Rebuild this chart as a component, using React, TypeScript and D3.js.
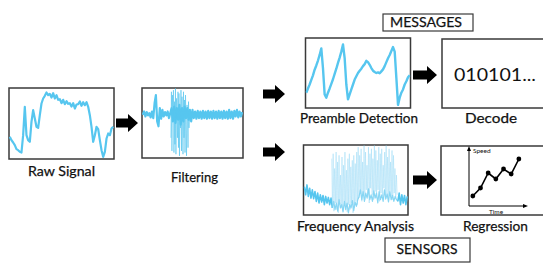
import React from 'react';
import * as d3 from 'd3';

// signal levels (0 = bottom of the panel, 210 = top)
const rawSignal = [65, 55, 48, 40, 28, 25, 20, 18, 70, 155, 70, 55, 50, 110, 145, 120, 95, 92, 130, 165,
  180, 188, 198, 190, 194, 183, 196, 180, 190, 176, 178, 166, 176, 163, 172, 164, 166, 156, 166, 150,
  162, 163, 171, 158, 169, 160, 169, 155, 130, 95, 50, 70, 95, 88, 55, 25, 5, 20, 60, 75, 70, 90, 95];

const filtered = [130, 140, 125, 138, 128, 135, 122, 140, 120, 165, 190, 110, 95, 150, 118, 145, 125, 138, 128, 140,
  120, 135, 150, 110, 155, 105, 150, 115, 160, 100, 150, 110, 155, 120, 150, 115, 145, 110, 145, 120,
  140, 118, 142, 120, 140, 118, 142, 120, 140, 118, 142, 120, 140, 118, 142, 120, 140, 118, 142, 120,
  140, 118, 142, 120, 140, 118, 145, 120, 140, 118, 142, 125, 145, 122, 140, 125, 138];

// the burst inside the filtered trace, samples 21.5 .. 36.5
const filterBurst = [60, 200, 20, 190, 120, 205, 15, 170, 40, 210, 10, 180, 130, 60, 200, 30, 195, 5, 150, 90,
  205, 20, 185, 110, 10, 200, 60, 175, 15, 190, 100, 5, 160, 120, 30, 170, 90, 140, 110, 130];

const preamble = [45, 58, 70, 84, 98, 115, 128, 143, 160, 180, 120, 40, 30, 45, 58, 72, 86, 102, 118, 136,
  152, 170, 192, 150, 70, 25, 40, 55, 70, 85, 95, 105, 112, 118, 126, 132, 142, 138, 130, 120,
  112, 108, 105, 107, 104, 110, 116, 126, 138, 150, 160, 172, 184, 170, 90, 8, 30, 45, 55, 70,
  80, 92, 98];

const frequency = [85, 60, 90, 55, 80, 50, 75, 48, 70, 40, 65, 35, 60, 38, 58, 30, 55, 35, 52, 30, 50,
  20, 40, 15, 35, 10, 45, 20, 30, 8, 40, 15, 35, 5, 30, 20, 42, 12, 38, 25, 45,
  55, 75, 45, 70, 40, 65, 50, 78, 45, 60, 40, 72, 50, 65, 35, 70, 45, 60, 40, 75, 48, 62, 38,
  70, 45, 58, 40, 55, 45,
  40, 65, 30, 60, 35, 58, 30, 55];

// the light burst inside the frequency trace, samples 20.5 .. 69.5
const freqBurst = [170, 20, 185, 10, 140, 35, 190, 15, 160, 5, 180, 30, 120, 20, 175, 10, 150, 40, 190, 25,
  135, 8, 170, 30, 185, 15, 145, 35, 165, 5, 180, 20, 155, 40, 190, 30,
  205, 50, 180, 70, 200, 40, 160, 65, 210, 45, 190, 75, 150, 55, 205, 35, 185, 80, 200, 60,
  170, 45, 210, 70, 195, 50, 165, 75, 205, 40, 185, 65, 200, 55, 150, 80, 190, 45, 210, 60,
  175, 50, 200, 70, 160, 55, 195, 45, 180, 65, 140, 50, 120, 60];

const regTime = [1, 2, 3, 4, 5, 6, 7];
const regSpeed = [10, 18, 33, 27, 37, 32, 47];

const BLUE = '#56c6ef';
const LIGHT = '#8fd6f5';
const BORDER = '#3a3a3a';
const FONT = 'Lato, "Open Sans", sans-serif';

type Box = { x: number; y: number; w: number; h: number };
type Seg = { from: number; to: number; color: string; width: number; opacity?: number };
type Overlay = { values: number[]; from: number; to: number; color: string; width: number; opacity?: number };

const boxes: Record<string, Box> = {
  raw: { x: 9, y: 88, w: 105, h: 71 },
  filter: { x: 142, y: 88, w: 101, h: 70 },
  pre: { x: 305.5, y: 38, w: 105, h: 70 },
  freq: { x: 303.5, y: 145, w: 104.5, h: 70 },
  decode: { x: 442, y: 39, w: 104, h: 69 },
  reg: { x: 441, y: 146, w: 105, h: 69 },
};

function Signal({ id, box, values, segments, overlays = [] }: {
  id: string; box: Box; values: number[]; segments: Seg[]; overlays?: Overlay[];
}) {
  const x = d3.scaleLinear().domain([0, values.length - 1]).range([box.x + 0.8, box.x + box.w - 0.8]);
  const y = d3.scaleLinear().domain([0, 210]).range([box.y + box.h - 0.5, box.y + 0.5]);
  const l = d3.line<[number, number]>().x(d => x(d[0])).y(d => y(d[1]));
  return (
    <g>
      <clipPath id={id}><rect x={box.x} y={box.y} width={box.w} height={box.h} /></clipPath>
      <g clipPath={`url(#${id})`}>
        {segments.map((s, k) => {
          const pts = values.map((v, i) => [i, v] as [number, number]).slice(s.from, s.to + 1);
          return <path key={k} d={l(pts) || ''} fill="none" stroke={s.color} strokeWidth={s.width}
            strokeOpacity={s.opacity ?? 1} strokeLinejoin="round" />;
        })}
        {overlays.map((o, k) => {
          const t = d3.scaleLinear().domain([0, o.values.length - 1]).range([o.from, o.to]);
          const pts = o.values.map((v, i) => [t(i), v] as [number, number]);
          return <path key={'o' + k} d={l(pts) || ''} fill="none" stroke={o.color} strokeWidth={o.width}
            strokeOpacity={o.opacity ?? 1} strokeLinejoin="round" />;
        })}
      </g>
    </g>
  );
}

function Arrow({ x0, x1, y }: { x0: number; x1: number; y: number }) {
  const shaft = 4.5, head = 9, hl = 10;
  const d = `M${x0},${y - shaft}L${x1 - hl},${y - shaft}L${x1 - hl},${y - head}L${x1},${y}L${x1 - hl},${y + head}L${x1 - hl},${y + shaft}L${x0},${y + shaft}Z`;
  return <path d={d} fill="#000" />;
}

function Label({ x, y, text, width, size = 14 }: { x: number; y: number; text: string; width: number; size?: number }) {
  return <text x={x} y={y} textAnchor="middle" fontFamily={FONT} fontSize={size} fill="#111"
    stroke="#111" strokeWidth={0.25}
    textLength={width} lengthAdjust="spacingAndGlyphs">{text}</text>;
}

function Regression() {
  const ox = 469, oy = 206;
  const x = d3.scaleLinear().domain([0.5, 7.8]).range([ox, 525]);
  const y = d3.scaleLinear().domain([0, 58]).range([oy, 148]);
  const line = d3.line<number>().x((_, i) => x(regTime[i])).y(d => y(d));
  return (
    <g>
      <line x1={ox} y1={oy} x2={ox} y2={150} stroke="#000" strokeWidth={1} />
      <path d={`M${ox - 2},${151}L${ox},${146}L${ox + 2},${151}Z`} fill="#000" />
      <line x1={ox} y1={oy} x2={524} y2={oy} stroke="#000" strokeWidth={1} />
      <path d={`M${523},${oy - 2}L${528},${oy}L${523},${oy + 2}Z`} fill="#000" />
      <text x={473} y={153} fontFamily={FONT} fontSize={6.5} fill="#111">Speed</text>
      <text x={496} y={213.5} textAnchor="middle" fontFamily={FONT} fontSize={6.5} fill="#111">Time</text>
      <path d={line(regSpeed) || ''} fill="none" stroke="#000" strokeWidth={1.6} />
      {regSpeed.map((s, i) => <circle key={i} cx={x(regTime[i])} cy={y(s)} r={2.4} fill="#000" />)}
    </g>
  );
}

export default function App() {
  const n = frequency.length;
  return (
    <svg width={543} height={265} style={{ position: 'absolute', left: 0, top: 0, background: '#fff' }}>
      {Object.entries(boxes).map(([k, b]) => (
        <rect key={k} x={b.x} y={b.y} width={b.w} height={b.h} fill="#fff" stroke={BORDER} strokeWidth={1.5} />
      ))}
      <Signal id="c-raw" box={boxes.raw} values={rawSignal}
        segments={[{ from: 0, to: rawSignal.length - 1, color: BLUE, width: 2.2 }]} />
      <Signal id="c-filter" box={boxes.filter} values={filtered}
        segments={[{ from: 0, to: filtered.length - 1, color: BLUE, width: 2.2 }]}
        overlays={[{ values: filterBurst, from: 21.5, to: 36.5, color: BLUE, width: 0.9, opacity: 0.7 }]} />
      <Signal id="c-pre" box={boxes.pre} values={preamble}
        segments={[{ from: 0, to: preamble.length - 1, color: BLUE, width: 2.4 }]} />
      <Signal id="c-freq" box={boxes.freq} values={frequency}
        segments={[
          { from: 0, to: 21, color: BLUE, width: 1.6 },
          { from: 21, to: 70, color: BLUE, width: 1.2, opacity: 0.7 },
          { from: 70, to: n - 1, color: BLUE, width: 1.6 },
        ]}
        overlays={[{ values: freqBurst, from: 20.5, to: 69.5, color: LIGHT, width: 0.7, opacity: 0.6 }]} />
      <Regression />

      <rect x={383} y={14} width={90} height={17} fill="#fff" stroke={BORDER} strokeWidth={1.2} />
      <rect x={385} y={238} width={85} height={24} fill="#fff" stroke={BORDER} strokeWidth={1.2} />
      <Label x={426} y={26.5} text="MESSAGES" width={72} />
      <Label x={427} y={254} text="SENSORS" width={61} />

      <text x={495} y={81} textAnchor="middle" fontFamily={FONT} fontSize={17} fill="#111"
        textLength={82} lengthAdjust="spacingAndGlyphs">010101...</text>

      <Arrow x0={116} x1={138} y={123} />
      <Arrow x0={263} x1={285} y={94} />
      <Arrow x0={263} x1={285} y={152} />
      <Arrow x0={413} x1={437} y={75} />
      <Arrow x0={413} x1={437} y={180} />

      <Label x={61.5} y={176} text="Raw Signal" width={67} />
      <Label x={194.5} y={181.5} text="Filtering" width={47} />
      <Label x={359} y={122.5} text="Preamble Detection" width={118} />
      <Label x={491} y={122.5} text="Decode" width={52} />
      <Label x={355.5} y={230.5} text="Frequency Analysis" width={117} />
      <Label x={495.5} y={230.5} text="Regression" width={65} />
    </svg>
  );
}
